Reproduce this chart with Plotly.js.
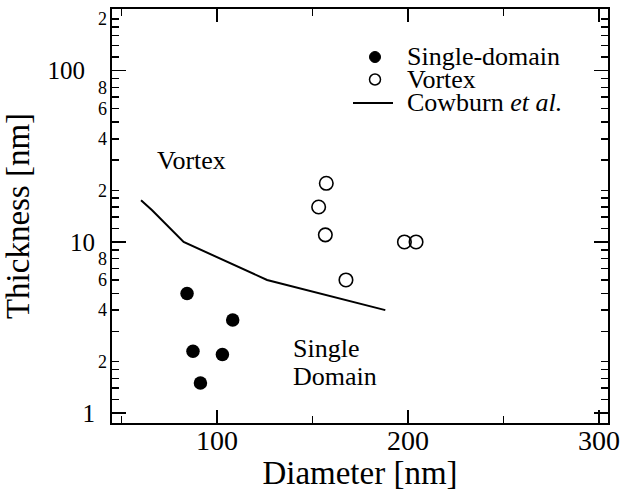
<!DOCTYPE html>
<html>
<head>
<meta charset="utf-8">
<script src="https://cdn.plot.ly/plotly-3.0.1.min.js"></script>
<style>
  html, body { margin: 0; padding: 0; background: #fff; }
  #chart { width: 626px; height: 491px; }
</style>
</head>
<body>
<div id="chart"></div>
<script>
// Measured particle sizes (diameter, thickness) in nm
const singleDomainDiameter = [84.3, 108.2, 87.4, 102.8, 91.3];
const singleDomainThickness = [5.0, 3.5, 2.3, 2.2, 1.5];

const vortexDiameter = [157.2, 153.2, 156.7, 167.5, 198.1, 204.2];
const vortexThickness = [22, 16, 11, 6.0, 10, 10];

// Phase boundary after Cowburn et al.
const cowburnDiameter = [60.2, 66, 82.5, 126.2, 188.1];
const cowburnThickness = [17.5, 15.3, 10, 6.0, 4.0];

// Axis ticks
const xMajorTicks = [100, 200, 300];
const xMinorTicks = [50, 150, 250];
const yMajorTicks = [1, 10, 100];
const yMajorText = ['1', '10', '100\u2009\u2009'];
const yLabeledMinor = [2, 4, 6, 8, 20, 40, 60, 80, 200];
const yLabeledMinorText = ['2', '4', '6', '8', '2', '4', '6', '8', '2'];
const yMinorMantissa = [1.2, 1.4, 1.6, 1.8, 2, 3, 4, 5, 6, 7, 8, 9];
const yDecades = [1, 10, 100];

const yMinorTicks = [];
yDecades.forEach(d => yMinorMantissa.forEach(m => yMinorTicks.push(+(m * d).toFixed(3))));

const FONT = 'Liberation Serif, Times New Roman, Times, serif';

// plot frame in pixels
const L = 112, R = 608, T = 9, B = 423;
const px = v => (v - L) / (R - L);
const py = v => (B - v) / (B - T);

const traces = [
  {
    x: cowburnDiameter, y: cowburnThickness,
    type: 'scatter', mode: 'lines',
    line: { color: '#000', width: 2 },
    name: 'Cowburn et al.', hoverinfo: 'skip'
  },
  {
    x: singleDomainDiameter, y: singleDomainThickness,
    type: 'scatter', mode: 'markers',
    marker: { symbol: 'circle', size: 13.5, color: '#000' },
    name: 'Single-domain'
  },
  {
    x: vortexDiameter, y: vortexThickness,
    type: 'scatter', mode: 'markers', yaxis: 'y2',
    marker: { symbol: 'circle-open', size: 13.5, color: '#000', line: { width: 1.6, color: '#000' } },
    name: 'Vortex'
  }
];

const yRange = [-0.057, 2.36];

const layout = {
  width: 626, height: 491,
  margin: { l: L, r: 626 - R, t: T, b: 491 - B },
  paper_bgcolor: '#fff', plot_bgcolor: '#fff',
  showlegend: false,
  font: { family: FONT, color: '#000' },
  xaxis: {
    range: [45, 304.7],
    tickmode: 'array', tickvals: xMajorTicks,
    ticks: 'inside', ticklen: 13, tickwidth: 1.5, tickcolor: '#000',
    minor: { tickmode: 'array', tickvals: xMinorTicks, ticks: 'inside', ticklen: 7, tickwidth: 1.5, tickcolor: '#000', showgrid: false },
    showline: true, linewidth: 2, linecolor: '#000', mirror: 'ticks',
    showgrid: false, zeroline: false,
    tickfont: { size: 28, family: FONT },
    ticklabelstandoff: -9,
    title: { text: 'Diameter [nm]', font: { size: 33, family: FONT }, standoff: 9 }
  },
  yaxis: {
    type: 'log', range: yRange,
    tickmode: 'array', tickvals: yMajorTicks, ticktext: yMajorText,
    ticks: 'inside', ticklen: 14, tickwidth: 1.5, tickcolor: '#000',
    minor: { tickmode: 'array', tickvals: yMinorTicks, ticks: 'inside', ticklen: 7, tickwidth: 1.5, tickcolor: '#000', showgrid: false },
    showline: true, linewidth: 2, linecolor: '#000', mirror: 'ticks',
    showgrid: false, zeroline: false,
    tickfont: { size: 25, family: FONT },
    ticklabelstandoff: 10,
    title: { text: 'Thickness [nm]', font: { size: 33, family: FONT }, standoff: 14 }
  },
  yaxis2: {
    type: 'log', range: yRange, overlaying: 'y', side: 'left',
    tickmode: 'array', tickvals: yLabeledMinor, ticktext: yLabeledMinorText,
    ticks: '', showline: false, showgrid: false, zeroline: false,
    tickfont: { size: 18, family: FONT },
    ticklabelstandoff: 4
  },
  annotations: [
    { text: 'Vortex', xref: 'x', yref: 'y', x: 67.5, y: Math.log10(30), xanchor: 'left', yanchor: 'middle', showarrow: false, font: { size: 26, family: FONT } },
    { text: 'Single', xref: 'x', yref: 'y', x: 138.6, y: Math.log10(2.38), xanchor: 'left', yanchor: 'middle', showarrow: false, font: { size: 26, family: FONT } },
    { text: 'Domain', xref: 'x', yref: 'y', x: 138.6, y: Math.log10(1.63), xanchor: 'left', yanchor: 'middle', showarrow: false, font: { size: 26, family: FONT } },
    { text: 'Single-domain', xref: 'paper', yref: 'paper', x: px(405), y: py(57), xanchor: 'left', yanchor: 'middle', showarrow: false, font: { size: 26, family: FONT } },
    { text: 'Vortex', xref: 'paper', yref: 'paper', x: px(405), y: py(79.5), xanchor: 'left', yanchor: 'middle', showarrow: false, font: { size: 26, family: FONT } },
    { text: 'Cowburn <i>et al.</i>', xref: 'paper', yref: 'paper', x: px(405), y: py(102), xanchor: 'left', yanchor: 'middle', showarrow: false, font: { size: 26, family: FONT } }
  ],
  shapes: [
    { type: 'circle', xref: 'paper', yref: 'paper', xsizemode: 'pixel', ysizemode: 'pixel',
      xanchor: px(375), yanchor: py(57), x0: -5.5, x1: 5.5, y0: -5.5, y1: 5.5,
      fillcolor: '#000', line: { color: '#000', width: 1 } },
    { type: 'circle', xref: 'paper', yref: 'paper', xsizemode: 'pixel', ysizemode: 'pixel',
      xanchor: px(375), yanchor: py(79.5), x0: -5.5, x1: 5.5, y0: -5.5, y1: 5.5,
      fillcolor: 'rgba(0,0,0,0)', line: { color: '#000', width: 1.5 } },
    { type: 'line', xref: 'paper', yref: 'paper',
      x0: px(353), x1: px(393), y0: py(103), y1: py(103),
      line: { color: '#000', width: 2 } }
  ]
};

Plotly.newPlot('chart', traces, layout, { staticPlot: true, displayModeBar: false });
</script>
</body>
</html>
